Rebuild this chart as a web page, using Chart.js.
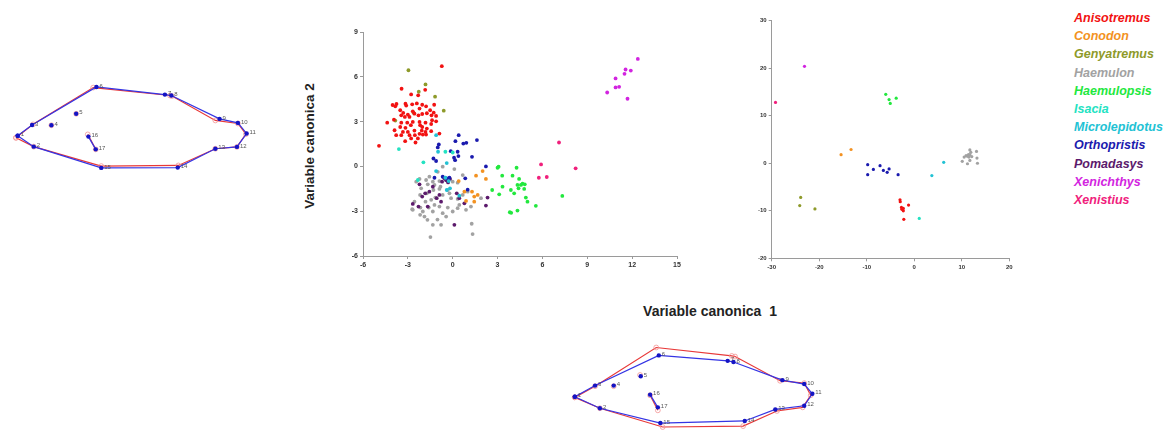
<!DOCTYPE html>
<html>
<head>
<meta charset="utf-8">
<title>Variable canonica</title>
<script src="https://cdn.jsdelivr.net/npm/chart.js@4.4.1/dist/chart.umd.min.js"></script>
<style>
    body { margin: 0; background: #fff; }
    #page { position: relative; width: 1166px; height: 433px; overflow: hidden;
            font-family: 'Liberation Sans', Arial, sans-serif; }
    canvas { position: absolute; }
    .title { position: absolute; font-weight: bold; color: #222; white-space: pre; }
    #legend { position: absolute; left: 1074px; top: 9px; font-weight: bold; font-style: italic;
              font-size: 12.5px; line-height: 18.2px; white-space: nowrap; }
</style>
</head>
<body>
<div id="page">
    <canvas id="leftShape" width="270" height="110" style="left:0;top:70px;width:270px;height:110px"></canvas>
    <canvas id="centreChart" width="360" height="246" style="left:325px;top:24px;width:360px;height:246px"></canvas>
    <canvas id="rightChart" width="275" height="262" style="left:745px;top:12px;width:275px;height:262px"></canvas>
    <canvas id="bottomShape" width="280" height="103" style="left:550px;top:330px;width:280px;height:103px"></canvas>

    <div class="title" style="left:309px;top:146px;font-size:13.5px;transform:translate(-50%,-50%) rotate(-90deg)">Variable canonica 2</div>
    <div class="title" style="left:710px;top:311px;font-size:14px;transform:translate(-50%,-50%)">Variable canonica  1</div>
    <div id="legend"></div>
</div>

<script>
// =====================================
// SPECIES
// =====================================

const species = [
    'Anisotremus', 'Conodon', 'Genyatremus', 'Haemulon', 'Haemulopsis', 'Isacia',
    'Microlepidotus', 'Orthopristis', 'Pomadasys', 'Xenichthys', 'Xenistius'
];

const speciesColors = [
    '#F21212', '#F39222', '#8E9A2A', '#A2A2A2', '#22E83E', '#24E2C2',
    '#22C2D4', '#1A1AAE', '#5C1A6C', '#D224E0', '#F0207C'
];

// draw order: grey cloud underneath, the rest on top
const speciesOrder = [2, 2, 2, 5, 2, 1, 2, 2, 3, 1, 1];


// =====================================
// CENTRE PANEL (CV1 x CV2)
// =====================================

const xTicksCentre = [-6, -3, 0, 3, 6, 9, 12, 15];
const yTicksCentre = [-6, -3, 0, 3, 6, 9];

const cvAnisotremus = [
    [-0.73, 6.71], [-3.42, 5.2], [-2.78, 4.82], [-1.84, 5.13], [-2.31, 4.76], [-4.02, 4.11],
    [-3.76, 4.18], [-3.84, 4.02], [-3.16, 4.2], [-3.11, 4.07], [-2.71, 4.16], [-2.4, 4.22],
    [-2.04, 4.13], [-2.22, 3.87], [-1.78, 4.02], [-1.51, 3.76], [-1.24, 4.13], [-1.27, 3.6],
    [-3.51, 3.76], [-3.31, 3.58], [-3.0, 3.47], [-2.67, 3.69], [-2.56, 3.53], [-3.44, 3.42],
    [-3.2, 3.31], [-2.89, 3.31], [-2.29, 3.42], [-2.04, 3.51], [-1.73, 3.56], [-1.42, 3.42],
    [-1.11, 3.38], [-4.38, 2.93], [-3.93, 3.13], [-3.44, 2.93], [-3.04, 2.93], [-2.67, 2.98],
    [-2.22, 2.98], [-1.82, 2.93], [-1.38, 3.09], [-1.11, 3.02], [-3.51, 2.64], [-3.16, 2.58],
    [-2.8, 2.76], [-2.18, 2.76], [-2.04, 2.64], [-1.73, 2.53], [-1.44, 2.84], [-3.89, 2.42],
    [-3.33, 2.31], [-3.0, 2.31], [-2.56, 2.4], [-2.07, 2.4], [-1.82, 2.31], [-1.44, 2.36],
    [-3.78, 2.09], [-3.44, 2.09], [-2.89, 2.09], [-2.53, 2.09], [-2.22, 2.18], [-2.0, 2.13],
    [-1.78, 2.13], [-0.89, 2.2], [-3.18, 1.69], [-2.78, 1.87], [-2.33, 1.87], [-2.49, 1.6],
    [-4.93, 1.38]
];
const cvConodon = [
    [2.0, -0.31], [1.56, -0.62], [2.22, -0.84], [0.4, -0.98], [0.78, -1.69], [1.29, -1.69],
    [1.44, -2.02], [1.67, -1.91], [1.44, -2.36], [0.89, -2.31]
];
const cvGenyatremus = [
    [-2.96, 6.44], [-1.82, 5.49], [-2.27, 5.0], [-1.18, 4.67], [-0.6, 3.73], [-3.84, 3.07],
    [-2.62, 3.6]
];
const cvHaemulon = [
    [-1.49, -4.73], [1.33, -4.53], [1.27, -3.84], [-2.18, -3.24], [-1.69, -3.58], [-1.02, -3.56],
    [-0.44, -3.36], [-2.16, -2.76], [-2.71, -2.87], [-1.6, -2.76], [-0.89, -2.69], [-0.33, -2.76],
    [0.33, -2.8], [0.89, -2.91], [-1.82, -2.36], [-1.44, -2.24], [-1.16, -2.09], [-0.67, -1.91],
    [-0.11, -2.13], [0.33, -2.18], [0.67, -1.91], [1.0, -1.69], [-2.18, -1.91], [-1.73, -1.8],
    [-1.29, -1.58], [-0.89, -1.51], [-0.33, -1.58], [-2.11, -1.47], [-1.67, -1.2], [-1.22, -1.24],
    [-0.82, -1.36], [-2.44, -1.02], [-1.78, -0.91], [-1.33, -1.02], [-0.89, -0.98], [0.0, -1.02],
    [0.33, -1.09], [0.67, -0.58], [0.11, -0.18], [-0.67, -0.02], [-1.0, -0.36], [-1.56, -0.69],
    [-2.22, -0.84], [-0.22, -1.8], [1.89, -2.13], [1.22, -2.69], [-2.56, -2.36], [-2.67, -2.91],
    [-2.0, -3.02], [-1.33, -3.02], [-0.67, -3.13], [0.0, -3.02], [0.44, -2.58], [-1.22, -2.58],
    [-1.89, -3.36], [-0.78, -3.91], [-1.33, -3.91]
];
const cvHaemulopsis = [
    [3.0, -0.09], [3.07, -0.02], [3.31, -0.62], [4.27, -0.09], [2.64, -1.58], [3.11, -1.87],
    [3.33, -1.36], [4.0, -0.62], [3.89, -1.58], [4.11, -1.8], [4.44, -0.84], [4.33, -1.24],
    [4.56, -1.24], [4.67, -1.16], [4.82, -1.2], [4.78, -1.51], [4.89, -2.09], [5.0, -2.36],
    [3.82, -3.07], [3.91, -3.11], [4.33, -2.96], [5.56, -2.64], [4.4, -1.47], [7.33, -1.98]
];
const cvIsacia = [
    [-3.6, 1.16], [-1.96, 0.27], [-2.33, -0.91], [-0.49, 0.98], [0.0, 0.93]
];
const cvMicrolepidotus = [
    [-1.11, 2.09], [-0.98, 0.98], [-0.4, 0.22], [-1.11, -0.31], [-0.49, -0.76], [-0.27, -0.98],
    [-0.18, -1.47], [-0.4, -1.58], [0.44, -1.96]
];
const cvOrthopristis = [
    [0.4, 2.09], [0.18, 1.69], [0.71, 1.53], [-0.93, 1.47], [-1.0, 1.27], [-0.13, 1.02],
    [0.33, 0.98], [0.91, 1.58], [1.62, 1.76], [0.38, 0.69], [0.09, 0.58], [0.16, 0.42],
    [-1.29, 0.53], [-1.11, 0.36], [1.29, 0.64], [2.22, 0.0], [-1.22, -0.76], [-0.67, -0.69],
    [-0.4, -0.8], [-0.22, -0.76], [0.84, -0.8], [1.0, -1.56]
];
const cvPomadasys = [
    [-2.67, -2.51], [-2.04, -2.02], [-1.56, -1.69], [-0.56, -0.8], [-0.44, -0.93], [-0.31, -1.07],
    [-0.71, -1.02], [-0.18, -0.84], [-2.22, -1.2], [-1.33, -1.36], [0.27, -1.8], [0.11, -3.91],
    [0.44, -2.13], [0.78, -2.47], [2.33, -2.09], [2.22, -2.62], [-0.78, -2.36], [-1.07, -2.13],
    [-1.84, -1.8], [-2.29, -2.69], [-0.89, -1.91], [-1.67, -2.69]
];
const cvXenichthys = [
    [12.38, 7.2], [11.56, 6.49], [11.91, 6.42], [11.49, 6.2], [10.89, 5.89], [10.89, 5.29],
    [11.13, 5.33], [10.33, 4.95], [11.69, 4.53]
];
const cvXenistius = [
    [7.11, 1.6], [5.91, 0.13], [5.76, -0.76], [6.29, -0.71], [8.22, -0.13]
];

const centreSets = [
    cvAnisotremus, cvConodon, cvGenyatremus, cvHaemulon, cvHaemulopsis, cvIsacia,
    cvMicrolepidotus, cvOrthopristis, cvPomadasys, cvXenichthys, cvXenistius
];


// =====================================
// RIGHT PANEL
// =====================================

const xTicksRight = [-30, -20, -10, 0, 10, 20];
const yTicksRight = [-20, -10, 0, 10, 20, 30];

const rAnisotremus = [
    [-3.0, -7.7], [-2.95, -8.1], [-2.7, -9.3], [-2.6, -9.7], [-2.3, -10.0], [-2.3, -9.5],
    [-1.2, -8.8], [-2.2, -11.8]
];
const rConodon = [[-15.4, 1.8], [-13.3, 2.9]];
const rGenyatremus = [[-23.9, -7.2], [-24.1, -8.9], [-20.9, -9.6]];
const rHaemulon = [
    [11.7, 2.8], [11.9, 2.3], [11.4, 1.8], [11.7, 1.8], [10.9, 1.6], [11.2, 1.5], [12.1, 1.4],
    [10.5, 1.3], [11.5, 1.3], [13.1, 2.5], [13.2, 1.1], [10.1, 0.4], [11.2, -0.1], [11.7, 0.6],
    [13.3, 0.0]
];
const rHaemulopsis = [[-6.0, 14.5], [-5.3, 13.4], [-5.05, 12.6], [-3.8, 13.7]];
const rIsacia = [[1.05, -11.6]];
const rMicrolepidotus = [[6.2, 0.2], [3.7, -2.6]];
const rOrthopristis = [
    [-9.8, -0.3], [-9.8, -2.4], [-8.6, -1.3], [-7.2, -0.5], [-6.5, -1.5], [-5.7, -1.9],
    [-5.3, -1.2], [-3.4, -2.4]
];
const rPomadasys = [];
const rXenichthys = [[-23.1, 20.4]];
const rXenistius = [[-29.2, 12.8]];

const rightSets = [
    rAnisotremus, rConodon, rGenyatremus, rHaemulon, rHaemulopsis, rIsacia,
    rMicrolepidotus, rOrthopristis, rPomadasys, rXenichthys, rXenistius
];


// =====================================
// LANDMARK SHAPES (17 landmarks)
// =====================================

// outline path through the landmarks, then the separate pieces
const outlineOrder = [1, 3, 6, 7, 8, 9, 10, 11, 12, 13, 14, 15, 2, 1];
const jawSegment = [16, 17];
const looseLandmarks = [4, 5];

// negative end of CV1
const leftBlue = [
    [0, 0], [0.167, -0.12], [0.15, 0.117], [0.35, 0.114], [0.607, 0.24], [0.817, 0.534],
    [1.527, 0.45], [1.594, 0.44], [2.094, 0.184], [2.284, 0.14], [2.374, 0.024], [2.274, -0.123],
    [2.05, -0.143], [1.66, -0.35], [0.867, -0.353], [0.734, -0.01], [0.81, -0.15]
];
const leftRed = [
    [-0.017, -0.023], [0.167, -0.12], [0.16, 0.124], [0.35, 0.114], [0.607, 0.24], [0.784, 0.527],
    [1.58, 0.44], [1.6, 0.434], [2.05, 0.167], [2.284, 0.134], [2.367, 0.017], [2.274, -0.123],
    [2.05, -0.143], [1.667, -0.326], [0.867, -0.333], [0.727, 0.014], [0.81, -0.15]
];

// positive end of CV1
const bottomBlue = [
    [0, 0], [0.26, -0.127], [0.21, 0.123], [0.403, 0.123], [0.683, 0.226], [0.87, 0.456],
    [1.583, 0.396], [1.643, 0.383], [2.15, 0.183], [2.376, 0.14], [2.46, 0.033], [2.376, -0.1],
    [2.076, -0.14], [1.76, -0.267], [0.886, -0.29], [0.78, 0.023], [0.86, -0.117]
];
const bottomRed = [
    [0, -0.007], [0.26, -0.127], [0.21, 0.116], [0.403, 0.116], [0.676, 0.24], [0.843, 0.543],
    [1.626, 0.45], [1.66, 0.443], [2.126, 0.176], [2.376, 0.15], [2.443, 0.016], [2.36, -0.117],
    [2.093, -0.157], [1.743, -0.324], [0.91, -0.334], [0.78, 0.016], [0.86, -0.15]
];


// =====================================
// HELPERS
// =====================================

const toPoints = arr => arr.map(p => ({ x: p[0], y: p[1] }));

function axisOptions(ticks, fontSize, fixSize) {
    return {
        type: 'linear',
        min: ticks[0],
        max: ticks[ticks.length - 1],
        afterBuildTicks: scale => {
            scale.ticks = ticks.map(v => ({ value: v }));
        },
        afterFit: fixSize,
        grid: {
            drawOnChartArea: false,
            drawTicks: true,
            tickLength: 3,
            color: '#9a9a9a'
        },
        border: { display: true, color: '#9a9a9a', width: 1 },
        ticks: {
            color: '#333',
            padding: 2,
            font: { family: "'Liberation Sans', Arial, sans-serif", size: fontSize, weight: 'bold' }
        }
    };
}

function scatterPanel(id, sets, opts) {
    new Chart(document.getElementById(id), {
        type: 'scatter',
        data: {
            datasets: sets.map((set, i) => ({
                label: species[i],
                data: toPoints(set),
                backgroundColor: speciesColors[i],
                borderColor: speciesColors[i],
                borderWidth: 0,
                pointRadius: opts.radius,
                order: speciesOrder[i],
                clip: false
            }))
        },
        options: {
            responsive: false,
            animation: false,
            layout: { padding: opts.padding },
            plugins: { legend: { display: false }, tooltip: { enabled: false } },
            scales: {
                x: axisOptions(opts.xTicks, opts.font, s => { s.height = opts.xHeight; }),
                y: axisOptions(opts.yTicks, opts.font, s => { s.width = opts.yWidth; })
            }
        }
    });
}

// landmark numbers beside the blue configuration
const landmarkNumbers = {
    id: 'landmarkNumbers',
    afterDatasetsDraw(chart, args, pluginOpts) {
        const ctx = chart.ctx;
        const xs = chart.scales.x, ys = chart.scales.y;
        ctx.save();
        ctx.font = "6px 'Liberation Sans', Arial, sans-serif";
        ctx.fillStyle = '#555';
        ctx.textBaseline = 'middle';
        pluginOpts.marks.forEach((p, i) => {
            ctx.fillText(String(i + 1), xs.getPixelForValue(p[0]) + 3, ys.getPixelForValue(p[1]) - 1);
        });
        ctx.restore();
    }
};

function shapeSets(marks, lineColor, pointStyle) {
    const pick = list => toPoints(list.map(n => marks[n - 1]));
    const common = Object.assign({
        borderColor: lineColor,
        borderWidth: 1.2,
        clip: false
    }, pointStyle);
    return [
        Object.assign({ data: pick(outlineOrder), showLine: true }, common),
        Object.assign({ data: pick(jawSegment), showLine: true }, common),
        Object.assign({ data: pick(looseLandmarks), showLine: false }, common)
    ];
}

function shapePanel(id, blue, red, range) {
    const redStyle = {
        pointRadius: 2.4,
        pointBorderWidth: 0.8,
        pointBorderColor: '#F29494',
        pointBackgroundColor: 'rgba(255,255,255,0)'
    };
    const blueStyle = {
        pointRadius: 2.2,
        pointBorderWidth: 0,
        pointBorderColor: '#1414C4',
        pointBackgroundColor: '#1414C4'
    };
    const datasets = shapeSets(red, '#E83838', redStyle)
        .concat(shapeSets(blue, '#3434E4', blueStyle));
    // blue drawn over red
    datasets.forEach((d, i) => { d.order = i < 3 ? 2 : 1; });

    new Chart(document.getElementById(id), {
        type: 'scatter',
        data: { datasets: datasets },
        options: {
            responsive: false,
            animation: false,
            layout: { padding: 0 },
            plugins: {
                legend: { display: false },
                tooltip: { enabled: false },
                landmarkNumbers: { marks: blue }
            },
            scales: {
                x: { type: 'linear', display: false, min: range[0], max: range[1] },
                y: { type: 'linear', display: false, min: range[2], max: range[3] }
            }
        },
        plugins: [landmarkNumbers]
    });
}


// =====================================
// DRAW
// =====================================

scatterPanel('centreChart', centreSets, {
    xTicks: xTicksCentre, yTicks: yTicksCentre,
    radius: 1.9, font: 7,
    padding: { top: 8, right: 8, left: 0, bottom: 0 },
    xHeight: 14, yWidth: 38
});

scatterPanel('rightChart', rightSets, {
    xTicks: xTicksRight, yTicks: yTicksRight,
    radius: 1.6, font: 6,
    padding: { top: 8.7, right: 10.7, left: 0, bottom: 0 },
    xHeight: 15.7, yWidth: 26.7
});

shapePanel('leftShape', leftBlue, leftRed, [-0.133, 2.567, -0.433, 0.667]);
shapePanel('bottomShape', bottomBlue, bottomRed, [-0.207, 2.593, -0.347, 0.683]);


// =====================================
// LEGEND
// =====================================

const legendBox = document.getElementById('legend');
species.forEach((name, i) => {
    const row = document.createElement('div');
    row.textContent = name;
    row.style.color = speciesColors[i];
    legendBox.appendChild(row);
});
</script>
</body>
</html>
